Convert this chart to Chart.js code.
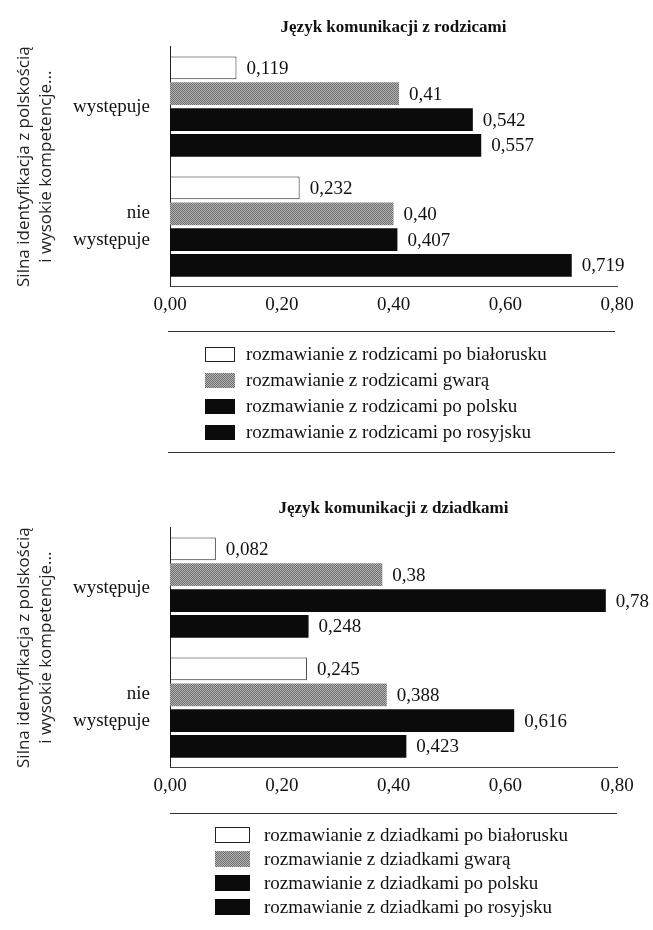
<!DOCTYPE html>
<html lang="pl">
<head>
    <meta charset="UTF-8">
    <title>Język komunikacji</title>
    <script src="https://cdn.jsdelivr.net/npm/chart.js"></script>
    <style>
        body {
            margin: 0;
            background: #fff;
        }
        .page {
            position: relative;
            width: 653px;
            height: 930px;
            overflow: hidden;
            background: #fff;
        }
        canvas.chart {
            position: absolute;
            left: 0;
        }
        .rule {
            position: absolute;
            height: 0;
            border-top: 1px solid #333;
        }
        .legend {
            position: absolute;
            font-family: "Liberation Serif", serif;
            font-size: 19px;
            color: #111;
        }
        .legend-row {
            display: flex;
            align-items: center;
            white-space: nowrap;
        }
        .legend-row canvas {
            display: block;
        }
    </style>
</head>
<body>
<div class="page">
    <canvas id="parentsChart" class="chart" width="653" height="320" style="top:0"></canvas>
    <div class="rule" style="top:331px; left:168px; width:447px"></div>
    <div class="legend" id="parentsLegend" style="top:341px; left:205px"></div>
    <div class="rule" style="top:452px; left:168px; width:447px"></div>

    <canvas id="grandChart" class="chart" width="653" height="320" style="top:481px"></canvas>
    <div class="rule" style="top:813px; left:170px; width:447px"></div>
    <div class="legend" id="grandLegend" style="top:823px; left:215px"></div>
</div>

<script>
    // categories (y axis) and axis ticks
    const categories = ['występuje', ['nie', 'występuje']];
    const xTicks = [0, 0.2, 0.4, 0.6, 0.8];
    const axisTitle = ['Silna identyfikacja z polskością', 'i wysokie kompetencje...'];

    // parents chart
    const parentsTitle = 'Język komunikacji z rodzicami';
    const parentsSeries = [
        'rozmawianie z rodzicami po białorusku',
        'rozmawianie z rodzicami gwarą',
        'rozmawianie z rodzicami po polsku',
        'rozmawianie z rodzicami po rosyjsku'
    ];
    const parentsBialorusku = ['0.119', '0.232'];
    const parentsGwara = ['0.41', '0.40'];
    const parentsPolsku = ['0.542', '0.407'];
    const parentsRosyjsku = ['0.557', '0.719'];

    // grandparents chart
    const grandTitle = 'Język komunikacji z dziadkami';
    const grandSeries = [
        'rozmawianie z dziadkami po białorusku',
        'rozmawianie z dziadkami gwarą',
        'rozmawianie z dziadkami po polsku',
        'rozmawianie z dziadkami po rosyjsku'
    ];
    const grandBialorusku = ['0.082', '0.245'];
    const grandGwara = ['0.38', '0.388'];
    const grandPolsku = ['0.78', '0.616'];
    const grandRosyjsku = ['0.248', '0.423'];

    const serif = '"Liberation Serif", "Times New Roman", serif';

    // halftone-ish grey used in the print
    function grainPattern() {
        const c = document.createElement('canvas');
        c.width = 2;
        c.height = 2;
        const g = c.getContext('2d');
        g.fillStyle = '#b3b3b3';
        g.fillRect(0, 0, 2, 2);
        g.fillStyle = '#6f6f6f';
        g.fillRect(0, 0, 1, 1);
        g.fillRect(1, 1, 1, 1);
        return g.createPattern(c, 'repeat');
    }
    const grey = grainPattern();

    const styles = [
        { backgroundColor: '#ffffff', borderColor: '#222', borderWidth: 1 },
        { backgroundColor: grey, borderColor: '#888', borderWidth: 0 },
        { backgroundColor: '#0b0b0b', borderColor: '#0b0b0b', borderWidth: 0 },
        { backgroundColor: '#0b0b0b', borderColor: '#0b0b0b', borderWidth: 0 }
    ];

    const comma = s => String(s).replace('.', ',');

    // value text next to every bar
    const valueLabels = {
        id: 'valueLabels',
        afterDatasetsDraw(chart) {
            const ctx = chart.ctx;
            ctx.save();
            ctx.font = '19px ' + serif;
            ctx.fillStyle = '#111';
            ctx.textBaseline = 'middle';
            ctx.textAlign = 'left';
            chart.data.datasets.forEach((ds, i) => {
                chart.getDatasetMeta(i).data.forEach((bar, j) => {
                    ctx.fillText(ds.valueText[j], bar.x + 10, bar.y + 1);
                });
            });
            ctx.restore();
        }
    };

    function makeChart(id, title, names, values) {
        const datasets = names.map((name, i) => Object.assign({
            label: name,
            data: values[i].map(Number),
            valueText: values[i].map(comma),
            categoryPercentage: 0.86,
            barPercentage: 0.88,
            borderSkipped: false
        }, styles[i]));

        return new Chart(document.getElementById(id), {
            type: 'bar',
            data: { labels: categories, datasets: datasets },
            plugins: [valueLabels],
            options: {
                indexAxis: 'y',
                responsive: false,
                animation: false,
                layout: { padding: { left: 0, right: 36, top: 0, bottom: 0 } },
                plugins: {
                    legend: { display: false },
                    tooltip: { enabled: false },
                    title: {
                        display: true,
                        text: title,
                        fullSize: false,
                        color: '#111',
                        font: { family: serif, size: 17, weight: 'bold', lineHeight: 1.2 },
                        padding: { top: 11, bottom: 9 }
                    }
                },
                scales: {
                    x: {
                        min: xTicks[0],
                        max: xTicks[xTicks.length - 1],
                        afterBuildTicks: s => { s.ticks = xTicks.map(v => ({ value: v })); },
                        ticks: {
                            padding: 7,
                            color: '#111',
                            font: { family: serif, size: 19 },
                            callback: v => v.toFixed(2).replace('.', ',')
                        },
                        grid: { display: false, drawTicks: false },
                        border: { display: true, color: '#444', width: 1 },
                        afterFit: s => { s.height = 33; }
                    },
                    y: {
                        ticks: {
                            padding: 20,
                            color: '#111',
                            font: { family: serif, size: 19, lineHeight: 1.4 }
                        },
                        grid: { display: false, drawTicks: false },
                        border: { display: true, color: '#222', width: 1 },
                        title: {
                            display: true,
                            text: axisTitle,
                            color: '#222',
                            font: { family: '"Open Sans", "Noto Sans", sans-serif', size: 17, lineHeight: 22 / 17 },
                            padding: { top: 13, bottom: 0 }
                        },
                        afterFit: s => { s.width = 170; }
                    }
                }
            }
        });
    }

    function buildLegend(chart, elId, boxW, boxH, gap, rowH) {
        const holder = document.getElementById(elId);
        chart.data.datasets.forEach(ds => {
            const row = document.createElement('div');
            row.className = 'legend-row';
            row.style.height = rowH + 'px';
            const sw = document.createElement('canvas');
            sw.width = boxW;
            sw.height = boxH;
            sw.style.marginRight = gap + 'px';
            const g = sw.getContext('2d');
            g.fillStyle = ds.backgroundColor;
            g.fillRect(0, 0, boxW, boxH);
            if (ds.borderWidth) {
                g.strokeStyle = ds.borderColor;
                g.lineWidth = 1;
                g.strokeRect(0.5, 0.5, boxW - 1, boxH - 1);
            }
            const txt = document.createElement('span');
            txt.textContent = ds.label;
            row.appendChild(sw);
            row.appendChild(txt);
            holder.appendChild(row);
        });
    }

    const parentsChart = makeChart('parentsChart', parentsTitle, parentsSeries,
        [parentsBialorusku, parentsGwara, parentsPolsku, parentsRosyjsku]);
    const grandChart = makeChart('grandChart', grandTitle, grandSeries,
        [grandBialorusku, grandGwara, grandPolsku, grandRosyjsku]);

    buildLegend(parentsChart, 'parentsLegend', 30, 15, 11, 26);
    buildLegend(grandChart, 'grandLegend', 35, 16, 14, 24);
</script>
</body>
</html>
